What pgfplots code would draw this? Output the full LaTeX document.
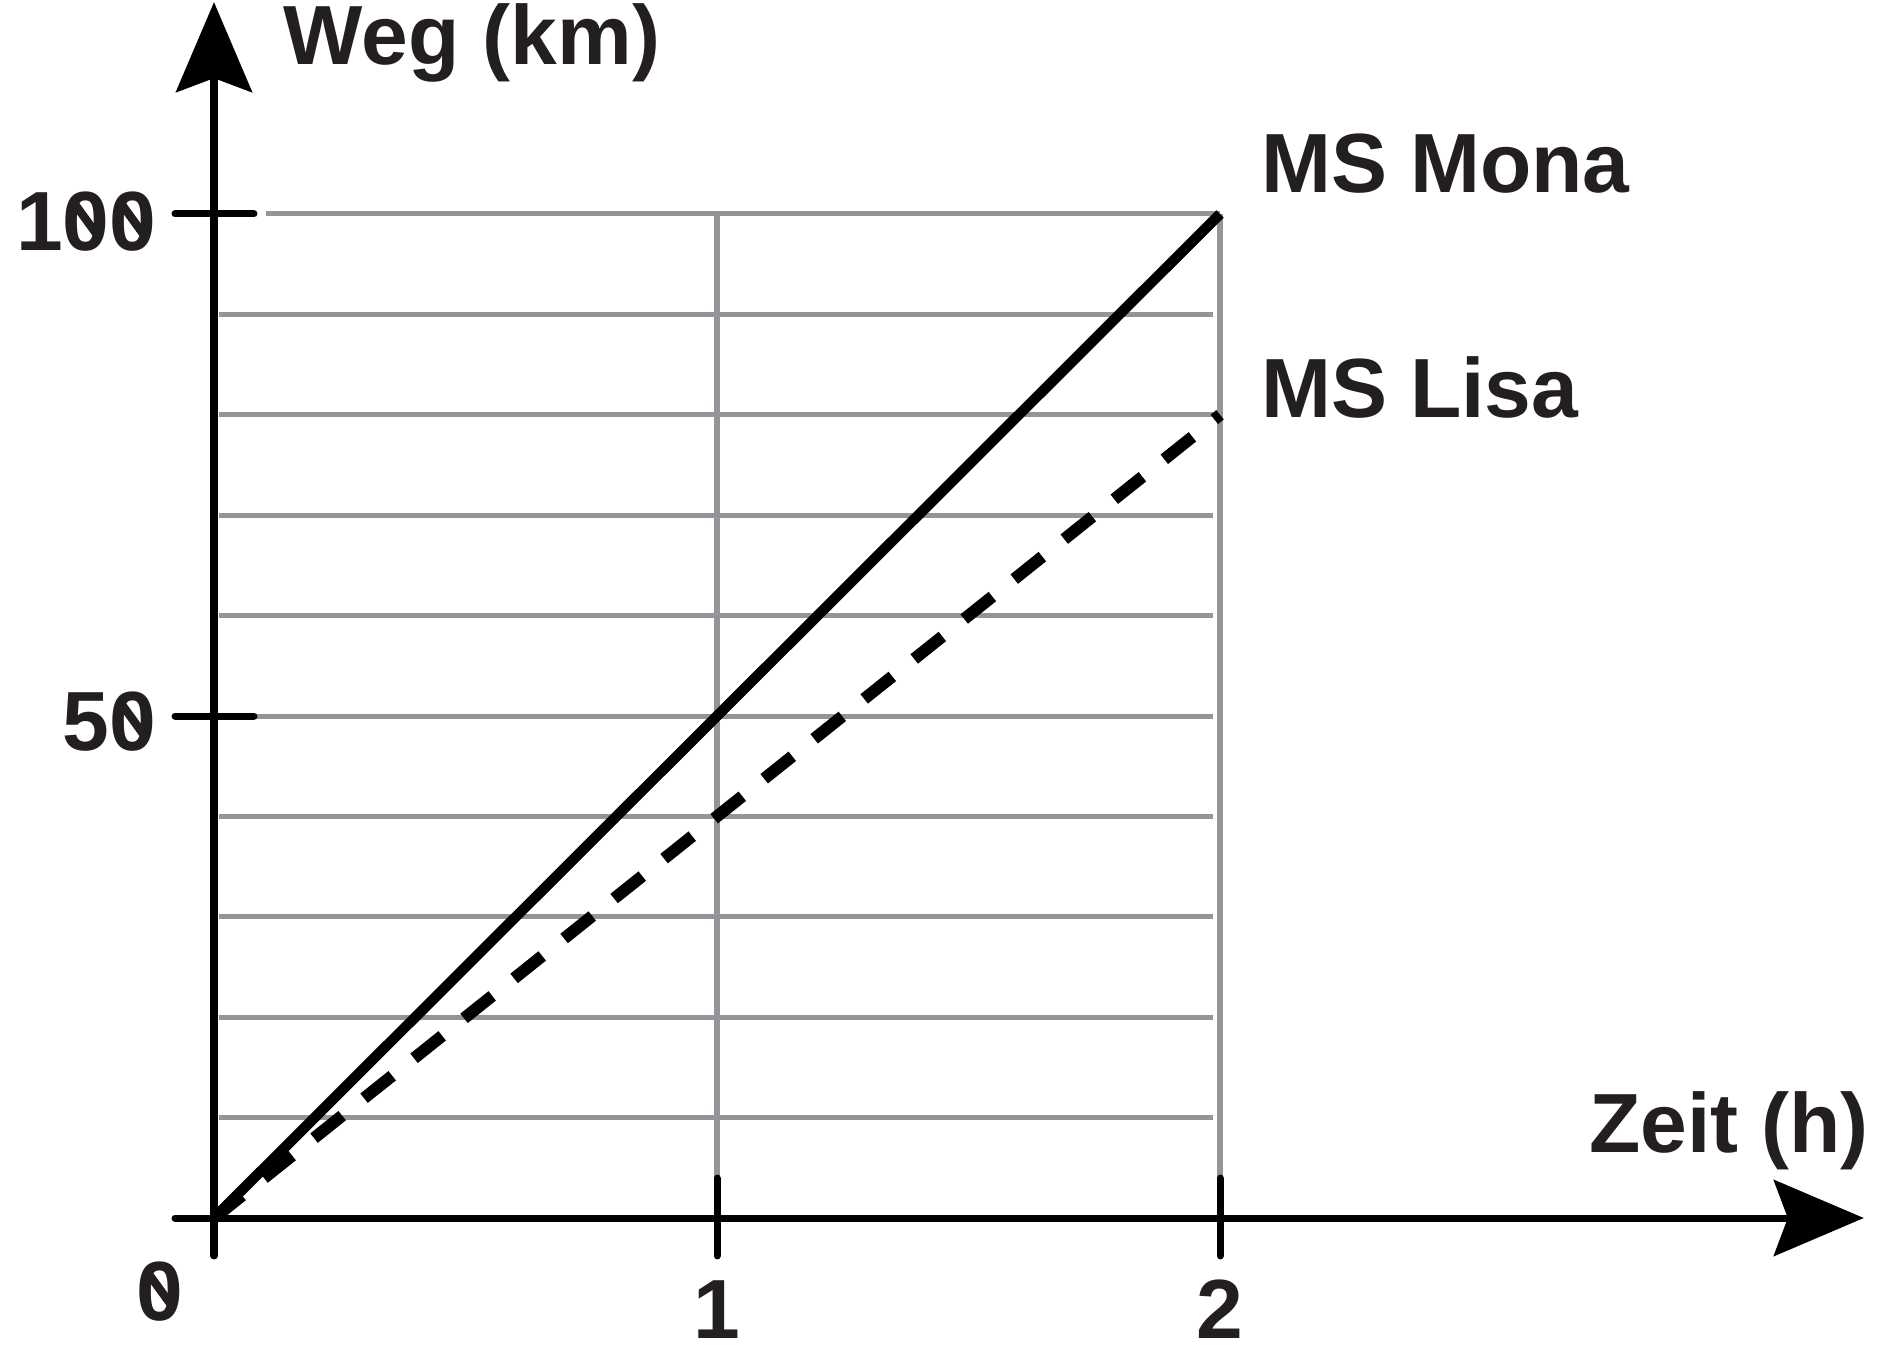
\documentclass[border=0pt]{standalone}
\usepackage{fontspec}
\setmainfont{Liberation Sans}
\usepackage{pgfplots}
\pgfplotsset{compat=1.18}
\usetikzlibrary{arrows.meta}

\definecolor{gridgray}{HTML}{939598}
\definecolor{ink}{HTML}{231F20}
% slashed zero as in the original
\newcommand\Z{\setbox0\hbox{0}\rlap{0}\hbox to\wd0{\hss\raisebox{0.36em}[0pt][0pt]{\rotatebox[origin=c]{36}{\rule[-0.26em]{0.1em}{0.52em}}}\hss}}
\tikzset{lab/.style={inner sep=0pt, text=ink, font=\fontsize{21}{25}\selectfont\bfseries}}

\begin{document}
\begin{tikzpicture}
\useasboundingbox (-53.5pt,-33pt) rectangle (420pt,304.5pt);
\begin{axis}[
    at={(0,0)}, anchor=south west,
    scale only axis,
    width=251.5pt, height=251pt,
    xmin=0, xmax=2, ymin=0, ymax=100,
    axis lines=none,
    clip=false,
]
% grid
\pgfplotsinvokeforeach{10,20,30,40,50,60,70,80,90}{
    \draw[gridgray, line width=1.25pt] (axis cs:0.01,#1) -- (axis cs:1.986,#1);
}
\draw[gridgray, line width=1.25pt] (axis cs:0.103,100) -- (axis cs:2,100);
\draw[gridgray, line width=1.4pt] (axis cs:1,100) -- (axis cs:1,4);
\draw[gridgray, line width=1.4pt] (axis cs:2,100) -- (axis cs:2,4);

% axes
\draw[line width=1.75pt, line cap=round, -{Stealth[length=22.5pt, width=19pt, inset=3.5pt]}]
    (axis cs:-0.0775,0) -- (axis cs:3.28,0);
\draw[line width=1.75pt, line cap=round, -{Stealth[length=22.5pt, width=19pt, inset=3.5pt]}]
    (axis cs:0,-3.78) -- (axis cs:0,121.1);
% ticks
\draw[line width=1.75pt, line cap=round] (axis cs:-0.0775,50) -- (axis cs:0.0795,50);
\draw[line width=1.75pt, line cap=round] (axis cs:-0.0775,100) -- (axis cs:0.0795,100);
\draw[line width=1.75pt, line cap=round] (axis cs:1,3.98) -- (axis cs:1,-3.78);
\draw[line width=1.75pt, line cap=round] (axis cs:2,3.98) -- (axis cs:2,-3.78);

% data
\addplot[black, line width=2.6pt] coordinates {(0,0) (2,100)};
\addplot[black, line width=3pt, dash pattern=on 9pt off 7pt]
    coordinates {(0,0) (2,80)};

% labels
\node[lab, anchor=base east] at (axis cs:-0.113,96.4) {1\Z\Z};
\node[lab, anchor=base east] at (axis cs:-0.113,46.6) {5\Z};
\node[lab, anchor=base] at (axis cs:-0.107,-10.16) {\Z};
\node[lab, anchor=base] at (axis cs:1,-12.0) {1};
\node[lab, anchor=base] at (axis cs:2,-12.0) {2};
\node[lab, anchor=base west] at (axis cs:0.137,114.9) {Weg (km)};
\node[lab, anchor=base west] at (axis cs:2.732,6.52) {Zeit (h)};
\node[lab, anchor=base west] at (axis cs:2.08,102.1) {MS Mona};
\node[lab, anchor=base west] at (axis cs:2.08,79.7) {MS Lisa};
\end{axis}
\end{tikzpicture}
\end{document}
